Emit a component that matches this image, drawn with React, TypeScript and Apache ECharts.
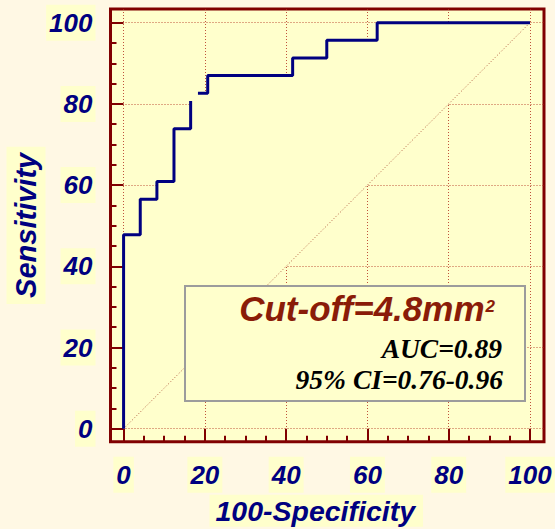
import { useEffect, useRef } from "react";
import * as echarts from "echarts";

// ROC curve, drawn in two pieces (the plotted curve has a small break near 17%)
const rocFprA = [0, 0, 4.1, 4.1, 8.2, 8.2, 12.4, 12.4, 16.5, 16.5];
const rocTprA = [0, 47.8, 47.8, 56.5, 56.5, 60.9, 60.9, 73.9, 73.9, 80.7];
const rocFprB = [18.3, 20.7, 20.7, 41.6, 41.6, 50.0, 50.0, 62.4, 62.4, 100];
const rocTprB = [82.6, 82.6, 87.0, 87.0, 91.3, 91.3, 95.7, 95.7, 100, 100];

// chance line
const chanceFpr = [0, 100];
const chanceTpr = [0, 100];

// axis ticks / labels
const majorTicks = [0, 20, 40, 60, 80, 100];
const minorTicks = [5, 10, 15, 25, 30, 35, 45, 50, 55, 65, 70, 75, 85, 90, 95];

// annotation texts
const cutOffText = "Cut-off=4.8mm";
const cutOffSup = "2";
const aucText = "AUC=0.89";
const ciText = "95% CI=0.76-0.96";

const PAGE_BG = "#FFF8E4";
const PLOT_BG = "#FFFFCC";
const FRAME = "#800000";
const GRID_LINE = "rgba(176, 40, 24, 0.8)";
const INK = "#000080";
const SANS = "'Liberation Sans', Arial, sans-serif";
const SERIF = "'Liberation Serif', 'Times New Roman', serif";

const X_MIN = -3.22;
const X_MAX = 103.45;
const Y_MIN = -3.2;
const Y_MAX = 103.37;

const zip = (xs: number[], ys: number[]) => xs.map((x, i) => [x, ys[i]]);

const tickLabel = {
  fontFamily: SANS,
  fontWeight: "bold" as const,
  fontStyle: "italic" as const,
  fontSize: 26,
  lineHeight: 26,
  color: INK,
  backgroundColor: PLOT_BG,
  padding: [5, 3, 5, 3],
};

const tickLine = { color: FRAME, width: 2 };
const gridLine = { type: [1, 2], color: GRID_LINE, width: 1 };

export default function App() {
  const ref = useRef<HTMLDivElement>(null);

  useEffect(() => {
    if (!ref.current) return;
    const chart = echarts.init(ref.current, null, { renderer: "svg" });

    const curveA = zip(rocFprA, rocTprA);
    const curveB = zip(rocFprB, rocTprB);
    // region between the ROC curve and the chance diagonal (closes along the diagonal)
    const band = [...curveA, ...curveB];

    const option: any = {
      animation: false,
      backgroundColor: PAGE_BG,
      grid: {
        left: 110.5,
        top: 9,
        right: 11,
        bottom: 87.3,
        show: true,
        backgroundColor: PLOT_BG,
        borderColor: FRAME,
        borderWidth: 3,
        outerBoundsMode: "none",
      },
      xAxis: [
        {
          type: "value",
          min: X_MIN,
          max: X_MAX,
          position: "bottom",
          axisLine: { show: false, onZero: false },
          axisTick: {
            show: true,
            inside: true,
            length: 13,
            customValues: majorTicks,
            lineStyle: tickLine,
          },
          axisLabel: { customValues: majorTicks, margin: 15, ...tickLabel },
          splitLine: { show: true, lineStyle: gridLine },
          name: "{t|100-Specificity}{s| }",
          nameLocation: "middle",
          nameGap: 56,
          nameMoveOverlap: false,
          nameTextStyle: {
            rich: {
              t: {
                fontFamily: SANS,
                fontWeight: "bold",
                fontStyle: "italic",
                fontSize: 28.5,
                lineHeight: 26,
                color: INK,
                backgroundColor: PLOT_BG,
                padding: [2, 8, 1, 6],
              },
              s: { width: 22, fontSize: 28, lineHeight: 26 },
            },
          },
        },
        {
          type: "value",
          min: X_MIN,
          max: X_MAX,
          position: "bottom",
          axisLine: { show: false, onZero: false },
          axisTick: {
            show: true,
            inside: true,
            length: 6,
            customValues: minorTicks,
            lineStyle: tickLine,
          },
          axisLabel: { show: false },
          splitLine: { show: false },
        },
      ],
      yAxis: [
        {
          type: "value",
          min: Y_MIN,
          max: Y_MAX,
          position: "left",
          axisLine: { show: false, onZero: false },
          axisTick: {
            show: true,
            inside: true,
            length: 13,
            customValues: majorTicks,
            lineStyle: tickLine,
          },
          axisLabel: { customValues: majorTicks, margin: 15, ...tickLabel },
          splitLine: { show: true, lineStyle: gridLine },
          name: "Sensitivity",
          nameLocation: "middle",
          nameGap: 65,
          nameMoveOverlap: false,
          nameRotate: 90,
          nameTextStyle: {
            fontFamily: SANS,
            fontWeight: "bold",
            fontStyle: "italic",
            fontSize: 29,
            lineHeight: 29,
            color: INK,
            backgroundColor: PLOT_BG,
            padding: [5, 6, 5, 6],
          },
        },
        {
          type: "value",
          min: Y_MIN,
          max: Y_MAX,
          position: "left",
          axisLine: { show: false, onZero: false },
          axisTick: {
            show: true,
            inside: true,
            length: 6,
            customValues: minorTicks,
            lineStyle: tickLine,
          },
          axisLabel: { show: false },
          splitLine: { show: false },
        },
      ],
      series: [
        {
          type: "custom",
          xAxisIndex: 0,
          yAxisIndex: 0,
          silent: true,
          z: 1,
          data: [[0, 0]],
          renderItem: (_params: any, api: any) => ({
            type: "polygon",
            shape: { points: band.map((p) => api.coord(p)) },
            style: { fill: PLOT_BG, stroke: "none" },
          }),
        },
        {
          type: "line",
          xAxisIndex: 0,
          yAxisIndex: 0,
          data: zip(chanceFpr, chanceTpr),
          symbol: "none",
          silent: true,
          z: 2,
          lineStyle: { type: [1, 2], color: "#B05A40", width: 1 },
        },
        {
          type: "line",
          xAxisIndex: 0,
          yAxisIndex: 0,
          data: curveA,
          symbol: "none",
          z: 3,
          lineStyle: { color: INK, width: 3 },
        },
        {
          type: "line",
          xAxisIndex: 0,
          yAxisIndex: 0,
          data: curveB,
          symbol: "none",
          z: 3,
          lineStyle: { color: INK, width: 3 },
        },
      ],
      graphic: [
        {
          type: "rect",
          z: 100,
          shape: { x: 185, y: 286, width: 340, height: 115 },
          style: { fill: PLOT_BG, stroke: "#9C9C9C", lineWidth: 2 },
        },
        {
          type: "text",
          z: 101,
          x: 495,
          y: 308,
          style: {
            text: `{m|${cutOffText}}{s|${cutOffSup}}`,
            align: "right",
            verticalAlign: "middle",
            rich: {
              m: {
                fontFamily: SANS,
                fontWeight: "bold",
                fontStyle: "italic",
                fontSize: 35,
                lineHeight: 35,
                fill: "#8A1C08",
              },
              s: {
                fontFamily: SANS,
                fontWeight: "bold",
                fontStyle: "italic",
                fontSize: 17,
                lineHeight: 17,
                verticalAlign: "top",
                padding: [7, 0, 0, 1],
                fill: "#8A1C08",
              },
            },
          },
        },
        {
          type: "text",
          z: 101,
          x: 502,
          y: 348.7,
          style: {
            text: aucText,
            align: "right",
            verticalAlign: "middle",
            fontFamily: SERIF,
            fontWeight: "bold",
            fontStyle: "italic",
            fontSize: 27.5,
            fill: "#000000",
          },
        },
        {
          type: "text",
          z: 101,
          x: 503,
          y: 379.7,
          style: {
            text: ciText,
            align: "right",
            verticalAlign: "middle",
            fontFamily: SERIF,
            fontWeight: "bold",
            fontStyle: "italic",
            fontSize: 27.5,
            fill: "#000000",
          },
        },
      ],
    };

    chart.setOption(option);
    return () => chart.dispose();
  }, []);

  return (
    <div
      ref={ref}
      style={{ position: "fixed", left: 0, top: 0, width: 555, height: 529 }}
    />
  );
}
